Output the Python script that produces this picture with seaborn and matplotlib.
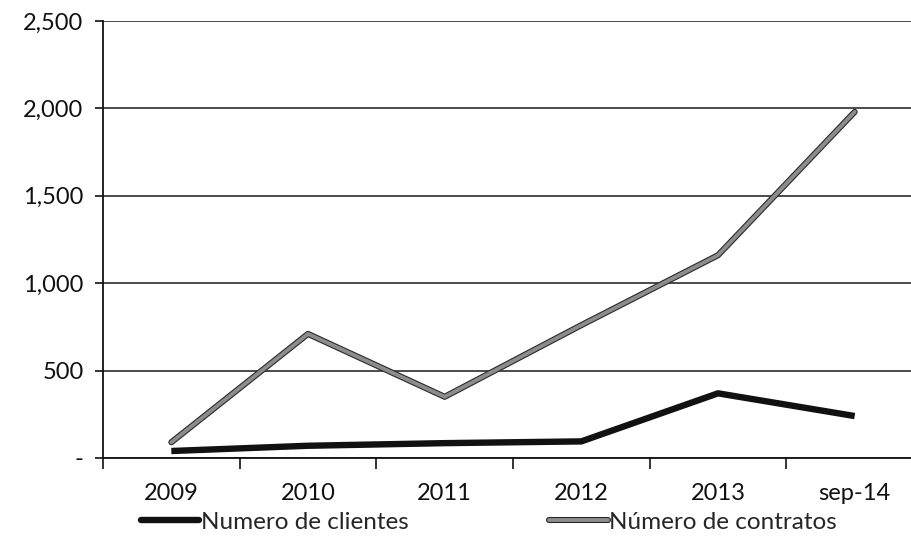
import matplotlib
matplotlib.use("Agg")
import matplotlib.pyplot as plt
import matplotlib.patheffects as pe
from matplotlib.lines import Line2D
import numpy as np
import pandas as pd
import seaborn as sns

periods = ["2009", "2010", "2011", "2012", "2013", "sep-14"]
clientes = [40, 70, 85, 95, 370, 240]
contratos = [90, 710, 350, 760, 1160, 1980]
series_names = ["Numero de clientes", "Número de contratos"]
y_ticks = [0, 500, 1000, 1500, 2000, 2500]
y_labels = ["-", "500", "1,000", "1,500", "2,000", "2,500"]

sns.set_theme(style="white")
plt.rcParams["font.family"] = ["Lato", "DejaVu Sans"]

df = pd.DataFrame({
    "pos": list(range(len(periods))) * 2,
    "valor": clientes + contratos,
    "serie": [series_names[0]] * len(periods) + [series_names[1]] * len(periods),
})

fig = plt.figure(figsize=(9.12, 5.40), dpi=100)
ax = fig.add_axes([103 / 912, 1 - 458 / 540, 820 / 912, 437 / 540])

sns.lineplot(data=df, x="pos", y="valor", hue="serie",
             palette={series_names[0]: "#111111", series_names[1]: "#8c8c8c"},
             linewidth=3, legend=False, ax=ax, zorder=3)

gray_fx = [pe.Stroke(linewidth=4.4, foreground="#2a2a2a"), pe.Normal()]
lines = ax.get_lines()
lines[0].set_linewidth(4.6)
lines[0].set_solid_capstyle("butt")
lines[1].set_linewidth(2.8)
lines[1].set_path_effects(gray_fx)

ax.set_xlim(-0.5, len(periods) - 0.5)
ax.set_ylim(0, 2500)
ax.set_yticks(y_ticks)
ax.set_yticklabels(y_labels)
ax.set_xticks(range(len(periods)))
ax.set_xticklabels(periods)
ax.set_xticks(np.arange(-0.5, len(periods), 1.0), minor=True)
ax.tick_params(axis="x", which="major", length=0, pad=18, labelsize=17, colors="#111111")
ax.tick_params(axis="x", which="minor", length=8, width=1.2, direction="out", color="#111111", bottom=True)
ax.tick_params(axis="y", length=6, width=1.2, direction="out", color="#111111", left=True,
               labelsize=17, pad=8, colors="#111111")
ax.set_xlabel("")
ax.set_ylabel("")

ax.grid(axis="y", color="#1a1a1a", linewidth=1.1)
ax.set_axisbelow(True)
for side in ["top", "right"]:
    ax.spines[side].set_visible(False)
ax.spines["left"].set_color("#111111")
ax.spines["left"].set_linewidth(1.3)
ax.spines["bottom"].set_color("#111111")
ax.spines["bottom"].set_linewidth(1.3)

handles = [
    Line2D([], [], color="#111111", linewidth=4.6),
    Line2D([], [], color="#8c8c8c", linewidth=2.8, path_effects=gray_fx),
]
fig.legend(handles, series_names, loc="center", bbox_to_anchor=(0.536, 1 - 522 / 540),
           ncol=2, frameon=False, fontsize=17.5, handlelength=2.4, handletextpad=0.05,
           columnspacing=5.8)

fig.savefig("out.png", dpi=100)
